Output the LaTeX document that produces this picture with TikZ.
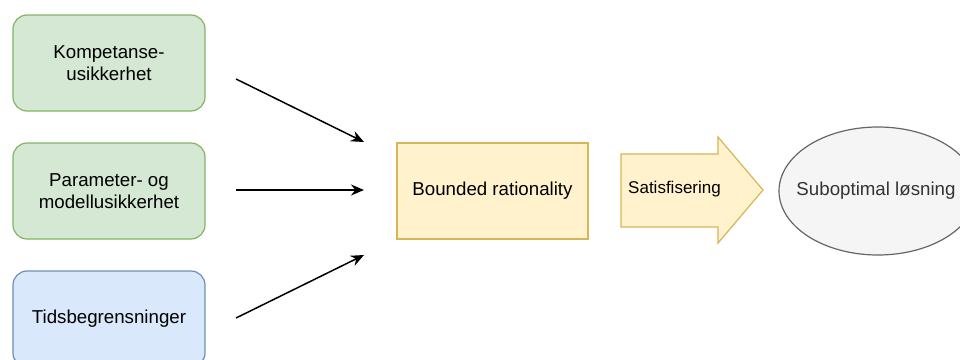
\documentclass[tikz,border=0pt]{standalone}
\usepackage{fontspec}
\setmainfont{Liberation Sans}
\usetikzlibrary{arrows.meta}
\definecolor{greenfill}{HTML}{D5E8D4}
\definecolor{greenline}{HTML}{82B366}
\definecolor{bluefill}{HTML}{DAE8FC}
\definecolor{blueline}{HTML}{6C8EBF}
\definecolor{yellowfill}{HTML}{FFF2CC}
\definecolor{yellowline}{HTML}{D6B656}
\definecolor{greyfill}{HTML}{F5F5F5}
\definecolor{greyline}{HTML}{666666}
\definecolor{greytext}{HTML}{333333}
\tikzset{
  factor/.style={draw, line width=1.2pt, rounded corners=14pt, minimum width=192pt,
    minimum height=96pt, align=center, font=\fontsize{18.7}{21.5}\selectfont, inner sep=0pt},
  greenbox/.style={factor, fill=greenfill, draw=greenline},
  bluebox/.style={factor, fill=bluefill, draw=blueline},
  flowarrow/.style={line width=1.5pt, -{Stealth[length=13pt,width=11pt]}},
}
\begin{document}
\begin{tikzpicture}[x=1pt,y=-1pt]
  \useasboundingbox (0,0) rectangle (960,359);
  % uncertainty sources
  \node[greenbox] (komp) at (109,63) {Kompetanse-\\usikkerhet};
  \node[greenbox] (param) at (109,191) {Parameter- og\\modellusikkerhet};
  \node[bluebox] (tid) at (109,319) {Tidsbegrensninger};
  % central concept
  \node[draw=yellowline, fill=yellowfill, line width=1.2pt, minimum width=191pt,
    minimum height=96pt, inner sep=0pt, font=\fontsize{18.7}{21.5}\selectfont]
    (bounded) at (492.5,191) {Bounded rationality};
  % block arrow
  \draw[draw=yellowline, fill=yellowfill, line width=1.2pt, line join=miter]
    (621,154) -- (718,154) -- (718,137) -- (763,190) -- (718,243) -- (718,227)
    -- (621,227) -- cycle;
  \node[font=\fontsize{17}{20}\selectfont, anchor=west, inner sep=0pt] (satis) at (628,189) {Satisfisering};
  % outcome
  \draw[draw=greyline, fill=greyfill, line width=1.2pt] (878,191) ellipse [x radius=99, y radius=64];
  \node[inner sep=0pt, text=greytext, font=\fontsize{18.7}{21.5}\selectfont]
    (result) at (876,191) {Suboptimal løsning};
  % free-standing arrows
  \coordinate (a1s) at (236,79);  \coordinate (a1e) at (364,142);
  \coordinate (a2s) at (236,190); \coordinate (a2e) at (364,190);
  \coordinate (a3s) at (236,318); \coordinate (a3e) at (364,255);
  \draw[flowarrow] (a1s) -- (a1e);
  \draw[flowarrow] (a2s) -- (a2e);
  \draw[flowarrow] (a3s) -- (a3e);
\end{tikzpicture}
\end{document}
